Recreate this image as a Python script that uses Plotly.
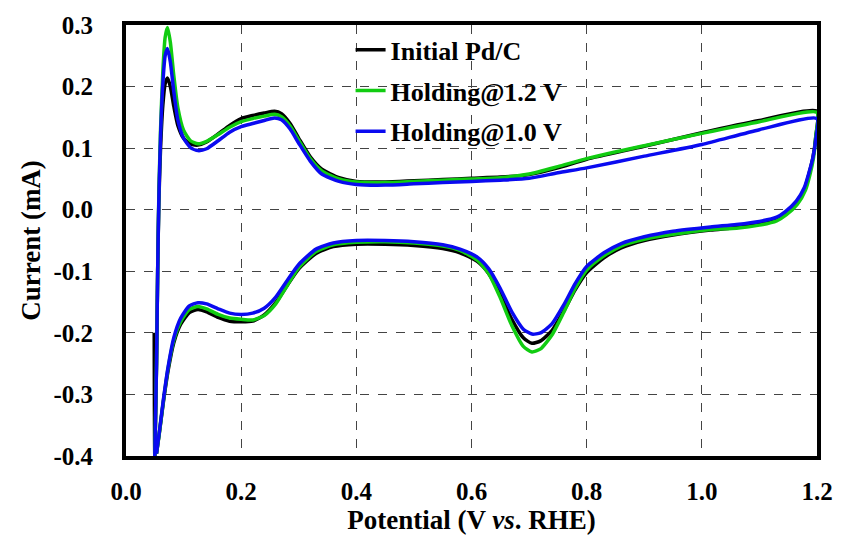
import plotly.graph_objects as go

# ---- data (Potential V vs RHE, Current mA) ----
# Initial Pd/C
pd_x = [0.049, 0.050, 0.053, 0.055, 0.057, 0.060, 0.064, 0.068, 0.072, 0.077, 0.083, 0.090, 0.100, 0.112, 0.125,
        0.140, 0.160, 0.180, 0.200, 0.220, 0.240, 0.258, 0.270, 0.285, 0.300, 0.320, 0.340, 0.370,
        0.400, 0.450, 0.500, 0.550, 0.600, 0.650, 0.700, 0.750, 0.800, 0.900, 1.000, 1.100, 1.200,
        1.198, 1.193, 1.186, 1.178, 1.164, 1.145, 1.130, 1.100, 1.060, 1.015, 0.950, 0.900, 0.860, 0.830,
        0.800, 0.780, 0.760, 0.740, 0.720, 0.705, 0.690, 0.670, 0.650, 0.630, 0.610, 0.580, 0.550,
        0.500, 0.450, 0.400, 0.360, 0.330, 0.300, 0.280, 0.260, 0.240, 0.220, 0.200, 0.180, 0.160,
        0.140, 0.125, 0.110, 0.095, 0.083, 0.073, 0.065, 0.058, 0.053]
pd_y = [-0.200, -0.400, -0.250, -0.100, 0.010, 0.100, 0.170, 0.205, 0.214, 0.200, 0.168, 0.137, 0.116, 0.107, 0.105,
        0.110, 0.123, 0.137, 0.148, 0.153, 0.157, 0.160, 0.156, 0.140, 0.116, 0.086, 0.066, 0.052,
        0.046, 0.045, 0.047, 0.049, 0.051, 0.053, 0.057, 0.068, 0.082, 0.103, 0.125, 0.145, 0.160,
        0.120, 0.085, 0.058, 0.033, 0.011, -0.006, -0.016, -0.023, -0.029, -0.033, -0.041, -0.050, -0.062, -0.078,
        -0.102, -0.130, -0.165, -0.196, -0.213, -0.217, -0.208, -0.178, -0.138, -0.104, -0.084, -0.070, -0.063,
        -0.058, -0.056, -0.056, -0.060, -0.071, -0.096, -0.123, -0.151, -0.171, -0.181, -0.182, -0.181, -0.175,
        -0.166, -0.162, -0.167, -0.186, -0.216, -0.262, -0.312, -0.362, -0.396]

# Holding@1.2 V
h12_x = [0.050, 0.053, 0.055, 0.057, 0.060, 0.064, 0.068, 0.072, 0.077, 0.083, 0.090, 0.100, 0.112, 0.125,
         0.140, 0.160, 0.180, 0.200, 0.220, 0.240, 0.258, 0.270, 0.285, 0.300, 0.320, 0.340, 0.370,
         0.400, 0.450, 0.500, 0.550, 0.600, 0.650, 0.700, 0.750, 0.800, 0.900, 1.000, 1.100, 1.200,
         1.198, 1.194, 1.188, 1.180, 1.166, 1.147, 1.130, 1.100, 1.060, 1.015, 0.950, 0.900, 0.860, 0.830,
         0.800, 0.780, 0.760, 0.740, 0.720, 0.705, 0.690, 0.670, 0.650, 0.630, 0.610, 0.580, 0.550,
         0.500, 0.450, 0.400, 0.360, 0.330, 0.300, 0.280, 0.260, 0.240, 0.220, 0.200, 0.180, 0.160,
         0.140, 0.125, 0.110, 0.095, 0.083, 0.073, 0.065, 0.058, 0.053]
h12_y = [-0.400, -0.250, -0.100, 0.020, 0.130, 0.225, 0.280, 0.296, 0.272, 0.218, 0.166, 0.129, 0.112, 0.107,
         0.111, 0.122, 0.134, 0.143, 0.148, 0.152, 0.155, 0.151, 0.136, 0.113, 0.083, 0.063, 0.050,
         0.045, 0.044, 0.046, 0.048, 0.050, 0.052, 0.058, 0.070, 0.083, 0.104, 0.124, 0.143, 0.158,
         0.120, 0.085, 0.058, 0.032, 0.009, -0.008, -0.018, -0.025, -0.030, -0.032, -0.040, -0.048, -0.059, -0.075,
         -0.098, -0.128, -0.167, -0.203, -0.226, -0.231, -0.222, -0.188, -0.143, -0.104, -0.082, -0.066, -0.059,
         -0.054, -0.052, -0.053, -0.057, -0.068, -0.094, -0.123, -0.153, -0.172, -0.179, -0.178, -0.176, -0.170,
         -0.161, -0.157, -0.162, -0.182, -0.212, -0.258, -0.310, -0.362, -0.396]

# Holding@1.0 V
h10_x = [0.050, 0.053, 0.055, 0.057, 0.060, 0.064, 0.068, 0.072, 0.077, 0.083, 0.090, 0.100, 0.112, 0.125,
         0.140, 0.160, 0.180, 0.200, 0.220, 0.240, 0.258, 0.270, 0.285, 0.300, 0.320, 0.340, 0.370,
         0.400, 0.450, 0.500, 0.550, 0.600, 0.650, 0.700, 0.750, 0.800, 0.900, 1.000, 1.100, 1.200,
         1.198, 1.193, 1.186, 1.178, 1.164, 1.145, 1.130, 1.100, 1.060, 1.015, 0.950, 0.900, 0.860, 0.830,
         0.800, 0.780, 0.760, 0.740, 0.720, 0.705, 0.690, 0.670, 0.650, 0.630, 0.610, 0.580, 0.550,
         0.500, 0.450, 0.400, 0.360, 0.330, 0.300, 0.280, 0.260, 0.240, 0.220, 0.200, 0.180, 0.160,
         0.140, 0.125, 0.110, 0.095, 0.083, 0.073, 0.065, 0.058, 0.053]
h10_y = [-0.400, -0.250, -0.100, 0.015, 0.120, 0.205, 0.250, 0.262, 0.240, 0.192, 0.146, 0.116, 0.101, 0.096,
         0.099, 0.112, 0.126, 0.135, 0.140, 0.145, 0.149, 0.146, 0.131, 0.108, 0.079, 0.058, 0.046,
         0.041, 0.040, 0.042, 0.044, 0.046, 0.048, 0.051, 0.060, 0.068, 0.087, 0.106, 0.130, 0.148,
         0.115, 0.085, 0.060, 0.036, 0.014, -0.003, -0.012, -0.019, -0.024, -0.028, -0.035, -0.044, -0.055, -0.070,
         -0.092, -0.120, -0.155, -0.185, -0.200, -0.202, -0.194, -0.166, -0.128, -0.096, -0.077, -0.064, -0.057,
         -0.052, -0.050, -0.050, -0.054, -0.064, -0.089, -0.115, -0.142, -0.160, -0.168, -0.170, -0.168, -0.161,
         -0.153, -0.151, -0.156, -0.176, -0.208, -0.256, -0.308, -0.360, -0.396]

series = [
    ("Initial Pd/C", pd_x, pd_y, "#000000"),
    ("Holding@1.2 V", h12_x, h12_y, "#11cc11"),
    ("Holding@1.0 V", h10_x, h10_y, "#0a0af0"),
]

x_ticks = [0.0, 0.2, 0.4, 0.6, 0.8, 1.0, 1.2]
x_tick_labels = ["0.0", "0.2", "0.4", "0.6", "0.8", "1.0", "1.2"]
y_ticks = [-0.4, -0.3, -0.2, -0.1, 0.0, 0.1, 0.2, 0.3]
y_tick_labels = ["-0.4", "-0.3", "-0.2", "-0.1", "0.0", "0.1", "0.2", "0.3"]

FONT = "Liberation Serif"

fig = go.Figure()
for i, (name, xs, ys, col) in enumerate(series):
    fig.add_trace(go.Scatter(
        x=xs, y=ys, mode="lines", name=name, legendgroup=f"g{i}",
        line=dict(color=col, width=3.5, shape="spline", smoothing=0.6),
    ))

fig.update_layout(
    width=845, height=539,
    margin=dict(l=126, r=19, t=24, b=83),
    paper_bgcolor="white", plot_bgcolor="white",
    font=dict(family=FONT, color="black"),
    showlegend=True,
    legend=dict(
        x=0.325, y=0.997, xanchor="left", yanchor="top",
        bgcolor="rgba(0,0,0,0)", borderwidth=0,
        font=dict(family=FONT, size=26, color="black", weight="bold"),
        tracegroupgap=4,
    ),
)
fig.update_xaxes(
    range=[0, 1.2], tickvals=x_ticks, ticktext=x_tick_labels,
    tickfont=dict(family=FONT, size=25, weight="bold"),
    showgrid=True, gridcolor="#444", griddash="dash", gridwidth=1,
    showline=True, linecolor="black", linewidth=4, mirror=True,
    ticks="", zeroline=False, ticklabelstandoff=10,
    title=dict(text="Potential (V <i>vs</i>. RHE)", font=dict(family=FONT, size=27, weight="bold"), standoff=2),
)
fig.update_yaxes(
    range=[-0.4, 0.3], tickvals=y_ticks, ticktext=y_tick_labels,
    tickfont=dict(family=FONT, size=25, weight="bold"),
    showgrid=True, gridcolor="#444", griddash="dash", gridwidth=1,
    showline=True, linecolor="black", linewidth=4, mirror=True,
    ticks="", zeroline=False, ticklabelstandoff=24,
    title=dict(text="Current (mA)", font=dict(family=FONT, size=27, weight="bold"), standoff=6),
)

fig.write_html("out.html")
